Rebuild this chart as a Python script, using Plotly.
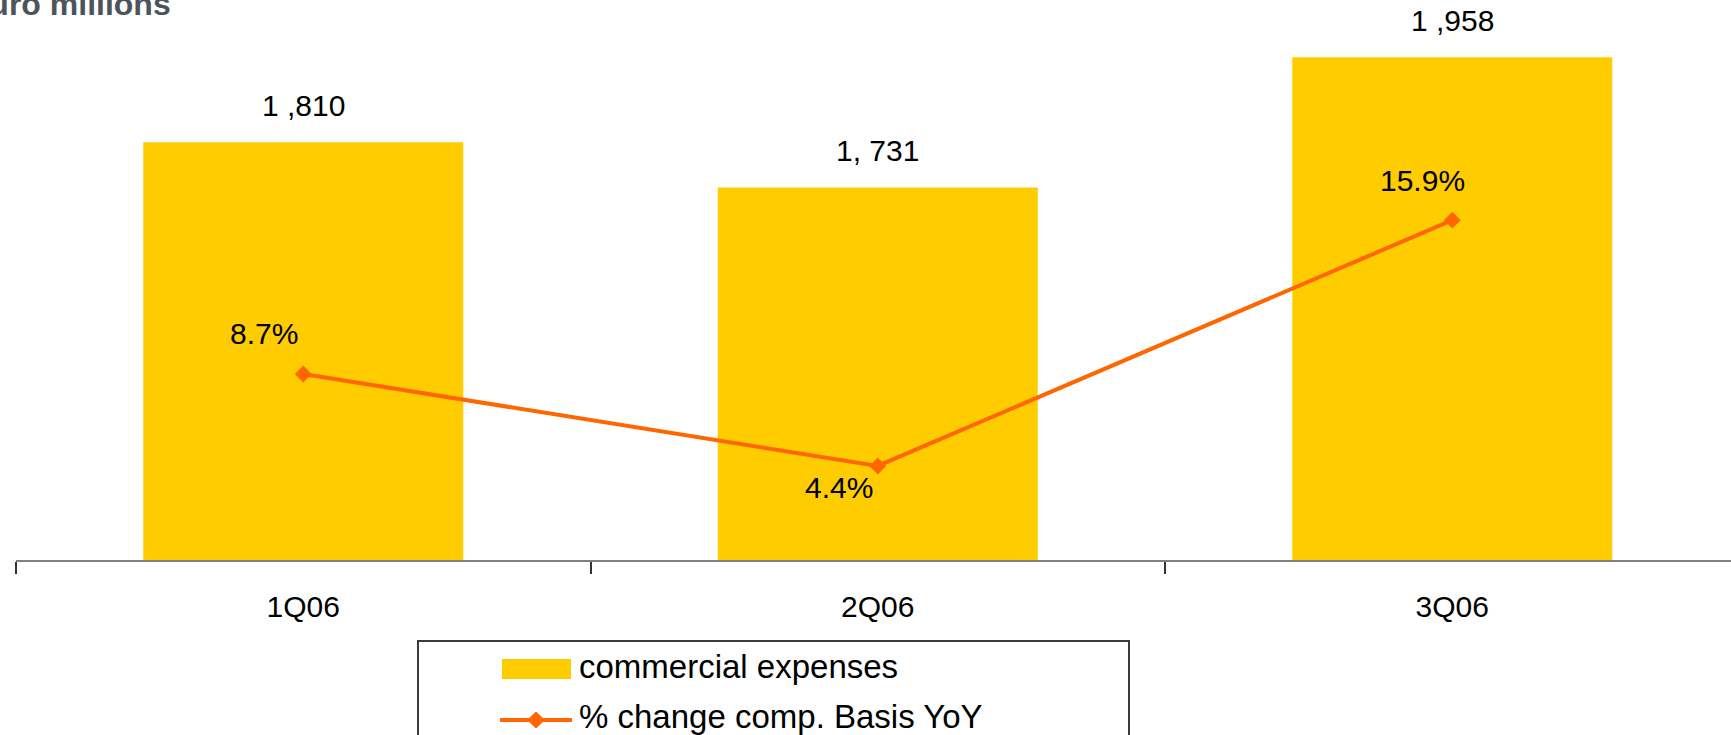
import plotly.graph_objects as go

# Quarterly commercial expenses (EUR m) and YoY % change on a comparable basis
quarters = ["1Q06", "2Q06", "3Q06"]
commercial_expenses = [1810, 1731, 1958]
expense_labels = ["1 ,810", "1, 731", "1 ,958"]
pct_change_yoy = [8.7, 4.4, 15.9]

BAR_COLOR = "#FFCC00"
LINE_COLOR = "#FF6600"
FONT = "Liberation Sans, Arial, sans-serif"

W, H = 1731, 735
ML, MR, MT, MB = 16, 0, 0, 175
PW, PH = W - ML - MR, H - MT - MB
CAT_PX = 574.5  # width of one category slot in pixels


def px_x(x):
    return (x - ML) / PW


def px_y(y):
    return (H - MB - y) / PH


fig = go.Figure()

fig.add_trace(go.Bar(
    x=quarters, y=commercial_expenses, name="commercial expenses",
    marker=dict(color=BAR_COLOR, line=dict(width=0)),
    width=0.557, yaxis="y", showlegend=False,
))

fig.add_trace(go.Scatter(
    x=quarters, y=pct_change_yoy, name="% change comp. Basis YoY",
    mode="lines+markers", yaxis="y2",
    line=dict(color=LINE_COLOR, width=4),
    marker=dict(symbol="diamond", size=13, color=LINE_COLOR),
    showlegend=False, cliponaxis=False,
))

annotations = []

# value labels above the bars
for q, v, t in zip(quarters, commercial_expenses, expense_labels):
    annotations.append(dict(
        x=q, y=v, xref="x", yref="y", text=t, showarrow=False,
        xanchor="center", yanchor="middle", yshift=37,
        font=dict(family=FONT, size=30, color="#000000"),
    ))

# percentage labels next to the line markers
pct_offsets = [(-39, 41), (-39, -22), (-30, 40)]
for q, p, (dx, dy) in zip(quarters, pct_change_yoy, pct_offsets):
    annotations.append(dict(
        x=q, y=p, xref="x", yref="y2", text=f"{p:.1f}%", showarrow=False,
        xanchor="center", yanchor="middle", xshift=dx, yshift=dy,
        font=dict(family=FONT, size=30, color="#000000"),
    ))

# unit caption in the top-left corner
annotations.append(dict(
    x=px_x(-34), y=px_y(4), xref="paper", yref="paper",
    text="<b>Euro millions</b>", showarrow=False,
    xanchor="left", yanchor="middle",
    font=dict(family=FONT, size=32, color="#4B545C"),
))

# key entries
annotations.append(dict(
    x=px_x(577), y=px_y(666), xref="paper", yref="paper",
    text="commercial expenses", showarrow=False,
    xanchor="left", yanchor="middle",
    font=dict(family=FONT, size=33, color="#000000"),
))
annotations.append(dict(
    x=px_x(577), y=px_y(716), xref="paper", yref="paper",
    text="% change comp. Basis YoY", showarrow=False,
    xanchor="left", yanchor="middle",
    font=dict(family=FONT, size=33, color="#000000"),
))

shapes = [
    # key frame, running off the bottom edge
    dict(type="rect", xref="paper", yref="paper",
         x0=px_x(418), x1=px_x(1129), y0=px_y(770), y1=px_y(641),
         line=dict(color="#3D3935", width=2), fillcolor="rgba(0,0,0,0)"),
    # bar swatch
    dict(type="rect", xref="paper", yref="paper",
         x0=px_x(502), x1=px_x(571), y0=px_y(679), y1=px_y(659),
         line=dict(width=0), fillcolor=BAR_COLOR),
    # line swatch
    dict(type="line", xref="paper", yref="paper",
         x0=px_x(500), x1=px_x(572), y0=px_y(720), y1=px_y(720),
         line=dict(color=LINE_COLOR, width=4)),
    # diamond on the line swatch
    dict(type="path", xref="paper", yref="paper",
         path=(f"M {px_x(527.5)} {px_y(720)} L {px_x(536)} {px_y(712)} "
               f"L {px_x(544.5)} {px_y(720)} L {px_x(536)} {px_y(728)} Z"),
         line=dict(color=LINE_COLOR, width=1), fillcolor=LINE_COLOR),
]

fig.update_layout(
    width=W, height=H,
    margin=dict(l=ML, r=MR, t=MT, b=MB, pad=0),
    paper_bgcolor="#FFFFFF", plot_bgcolor="#FFFFFF",
    font=dict(family=FONT, size=30, color="#000000"),
    bargap=0.443,
    xaxis=dict(
        type="category", range=[-0.5, -0.5 + PW / CAT_PX],
        showline=True, linecolor="#808080", linewidth=2,
        ticks="outside", tickson="boundaries", ticklen=12,
        tickcolor="#333333", tickwidth=1.5,
        ticklabelstandoff=19,
        tickfont=dict(family=FONT, size=30, color="#000000"),
        showgrid=False, zeroline=False, fixedrange=True,
    ),
    yaxis=dict(
        range=[1081, 2058], visible=False, showgrid=False, zeroline=False,
    ),
    yaxis2=dict(
        range=[0, 26.2], overlaying="y", visible=False,
        showgrid=False, zeroline=False,
    ),
    annotations=annotations,
    shapes=shapes,
    showlegend=False,
)

fig.write_html("out.html")
